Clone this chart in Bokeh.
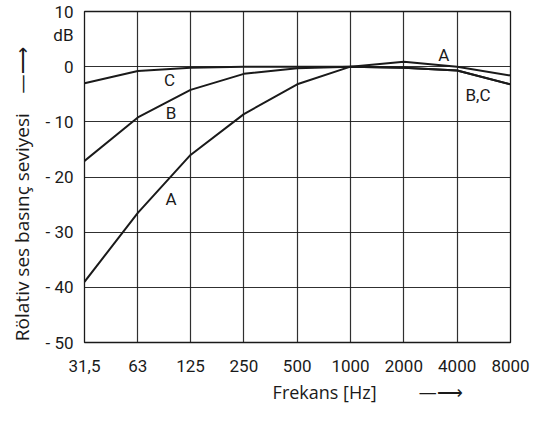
from bokeh.plotting import figure
from bokeh.models import FixedTicker, Label
from bokeh.embed import file_html
from bokeh.resources import INLINE

# ---- data ----
freqs = [31.5, 63, 125, 250, 500, 1000, 2000, 4000, 8000]
freq_labels = ["31,5", "63", "125", "250", "500", "1000", "2000", "4000", "8000"]
curve_a = [-39.0, -26.5, -16.0, -8.6, -3.2, 0.0, 0.9, 0.0, -1.6]
curve_b = [-17.1, -9.2, -4.2, -1.3, -0.3, 0.0, -0.2, -0.7, -3.2]
curve_c = [-3.0, -0.8, -0.2, 0.0, 0.0, 0.0, -0.2, -0.7, -3.2]
y_ticks = [-50, -40, -30, -20, -10, 0, 10]
y_tick_labels = ["- 50", "- 40", "- 30", "- 20", "- 10", "0", "10"]
dB_pos = 5.8

# curve name labels: (text, freq, level)
curve_names = [("C", 95, -2.5), ("B", 97, -8.4), ("A", 97, -24.0),
               ("A", 3360, 2.2), ("B,C", 5240, -5.1)]

FONT = "Roboto"
TFONT = "Open Sans"
INK = "#1a1a1a"
NB = "\u00a0"
ARROW = "\u2014\u27F6"

p = figure(width=530, height=407, x_axis_type="log",
           x_range=(31.5, 8000), y_range=(-50, 10),
           output_backend="svg", toolbar_location=None,
           min_border_left=84, min_border_right=20,
           min_border_top=11, min_border_bottom=65)
p.background_fill_color = "white"
p.border_fill_color = "white"
p.outline_line_color = INK
p.outline_line_width = 1.3

# axes
p.xaxis.ticker = FixedTicker(ticks=freqs)
p.xaxis.major_label_overrides = {f: l for f, l in zip(freqs, freq_labels)}
yt = y_ticks + [dB_pos]
p.yaxis.ticker = FixedTicker(ticks=yt)
ov = {t: l for t, l in zip(y_ticks, y_tick_labels)}
ov[dB_pos] = "dB"
p.yaxis.major_label_overrides = ov
for ax in (p.xaxis, p.yaxis):
    ax.axis_line_color = None
    ax.major_tick_line_color = None
    ax.minor_tick_line_color = None
    ax.major_label_text_font = FONT
    ax.major_label_text_font_size = "17px"
    ax.major_label_text_color = INK
    ax.axis_label_text_font = TFONT
    ax.axis_label_text_font_style = "normal"
    ax.axis_label_text_color = INK
p.xaxis.axis_label_text_font_size = "18px"
p.yaxis.axis_label_text_font_size = "19px"
p.xaxis.major_label_standoff = 11
p.yaxis.major_label_standoff = 5

p.xaxis.axis_label = NB * 30 + "Frekans [Hz]" + NB * 9 + ARROW
p.xaxis.axis_label_standoff = 5
p.yaxis.axis_label = "Rölativ ses basınç seviyesi" + NB * 4 + ARROW + NB * 7
p.yaxis.axis_label_standoff = 7

p.xgrid.ticker = FixedTicker(ticks=freqs)
p.ygrid.ticker = FixedTicker(ticks=y_ticks)
for g in (p.xgrid, p.ygrid):
    g.grid_line_color = INK
    g.grid_line_width = 1.2
    g.grid_line_alpha = 0.9

# curves
for ys in (curve_a, curve_b, curve_c):
    p.line(freqs, ys, line_color=INK, line_width=2.0)

for t, fx, fy in curve_names:
    p.add_layout(Label(x=fx, y=fy, text=t, text_font=FONT, text_font_size="17px",
                       text_color=INK, text_align="center", text_baseline="middle"))

open("out.html", "w").write(file_html(p, INLINE))
